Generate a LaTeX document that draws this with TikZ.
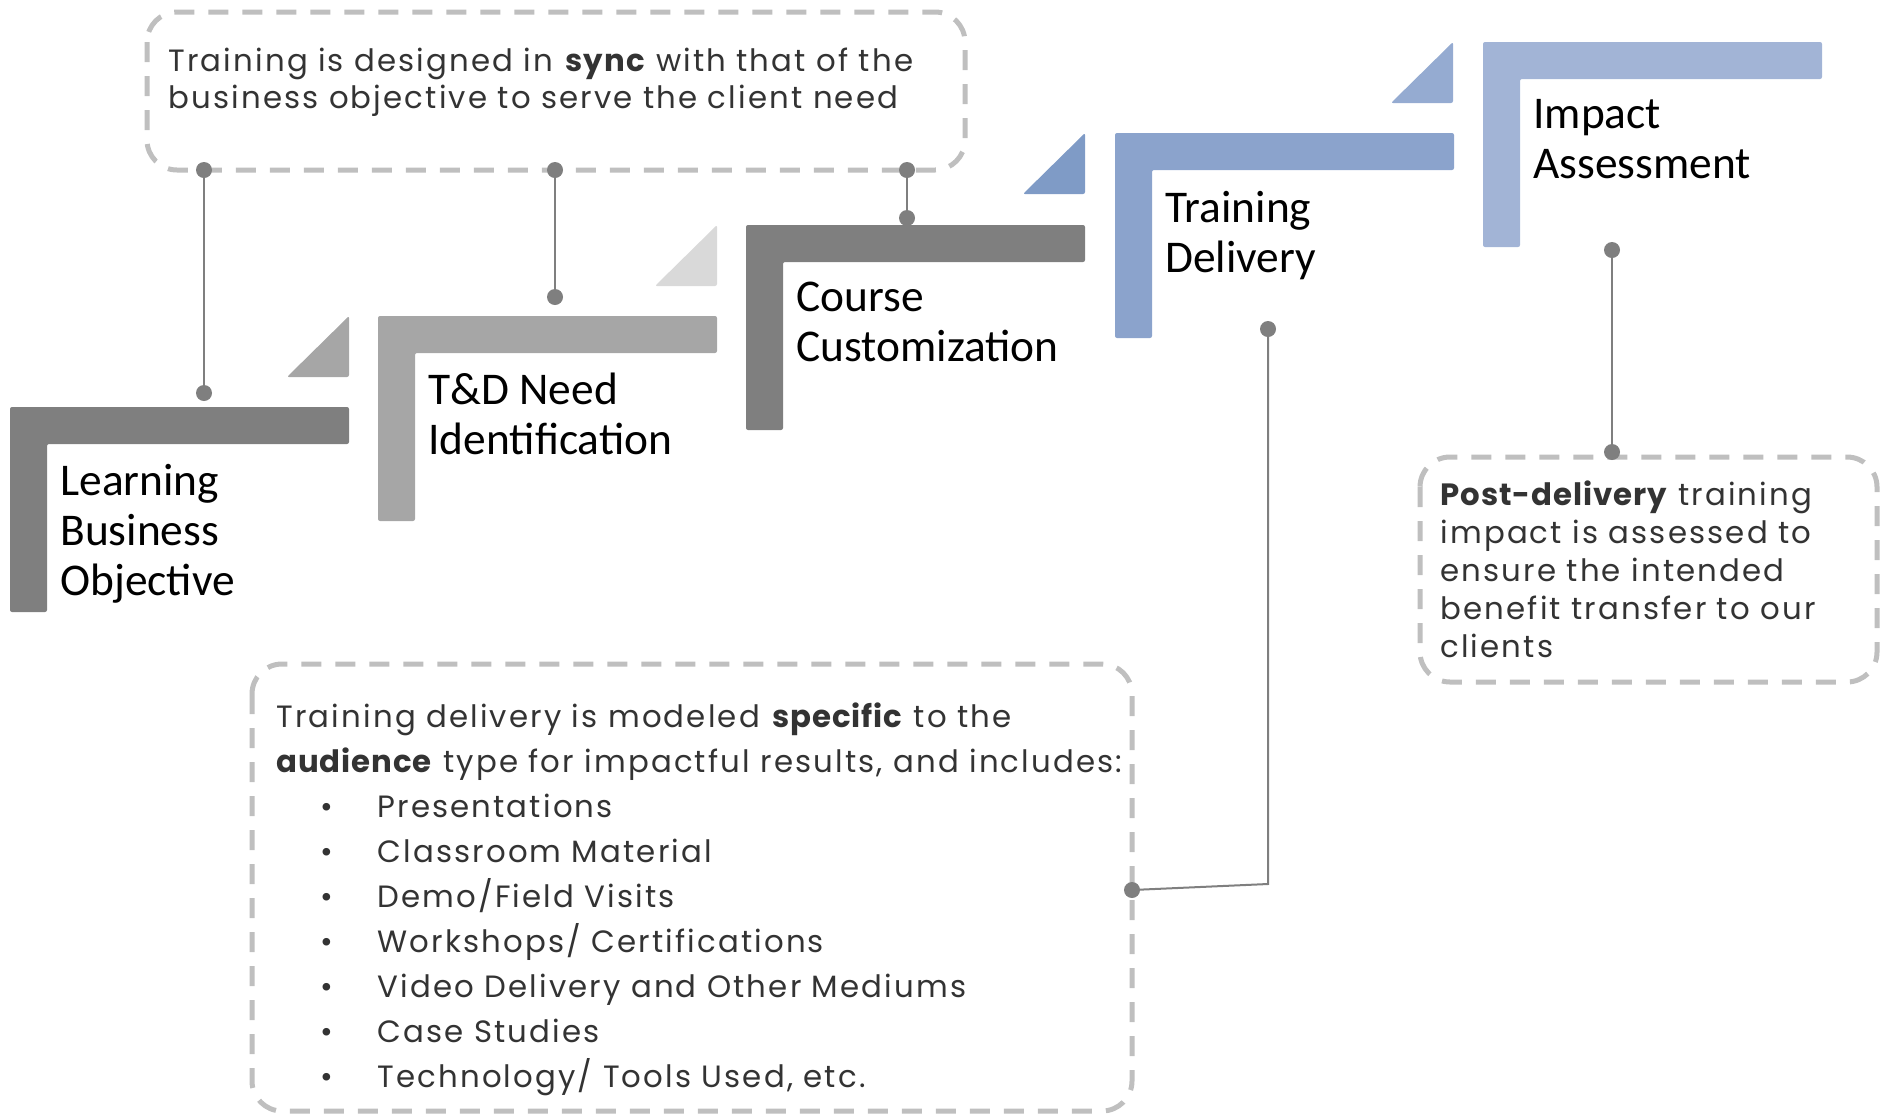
\documentclass[tikz,border=0pt]{standalone}
\usepackage{fontspec}
\setmainfont{Carlito}
\newfontfamily\monfont[LetterSpace=7.0,BoldFeatures={LetterSpace=3.0}]{Poppins}
\definecolor{gdark}{HTML}{7F7F7F}
\definecolor{gmid}{HTML}{A6A6A6}
\definecolor{glight}{HTML}{D9D9D9}
\definecolor{bltri}{HTML}{7F9BC6}
\definecolor{bdel}{HTML}{8BA3CC}
\definecolor{bltri2}{HTML}{95ABD1}
\definecolor{bimp}{HTML}{A2B4D6}
\definecolor{dashc}{HTML}{BFBFBF}
\definecolor{linec}{HTML}{7F7F7F}
\definecolor{txtc}{HTML}{333333}
\begin{document}
\begin{tikzpicture}[x=0.5pt,y=-0.5pt,
  lshape/.pic={\fill[pic actions,rounded corners=1pt] (0,0) -- (339,0) -- (339,37) -- (37,37) -- (37,205) -- (0,205) -- cycle;},
  corner/.pic={\fill[pic actions,rounded corners=1pt] (0,61) -- (62,61) -- (62,0) -- cycle;},
  steplabel/.style={anchor=north west,inner sep=0pt,align=left,font=\fontsize{22.7}{25}\selectfont,text=black},
  dbox/.style={draw=dashc,line width=2.5pt,dash pattern=on 10pt off 7pt,rounded corners=15pt},
  desc/.style={anchor=north west,inner sep=0pt,align=left,text=txtc},
  conn/.style={draw=linec,line width=1pt},
  dot/.style={fill=linec}
]
\useasboundingbox (0,0) rectangle (1884,1115);

% step shapes
\pic[fill=gdark] at (10,407) {lshape};
\pic[fill=gmid] at (287,316) {corner};
\pic[fill=gmid] at (378,316) {lshape};
\pic[fill=glight] at (655,225) {corner};
\pic[fill=gdark] at (746,225) {lshape};
\pic[fill=bltri] at (1023,133) {corner};
\pic[fill=bdel] at (1115,133) {lshape};
\pic[fill=bltri2] at (1391,42) {corner};
\pic[fill=bimp] at (1483,42) {lshape};

% step labels
\node[steplabel] (lbo) at (60,464) {Learning\\Business\\Objective};
\node[steplabel] (tdn) at (428,373) {T\&D Need\\Identification};
\node[steplabel] (cc) at (796,282) {Course\\Customization};
\node[steplabel] (td) at (1165,191) {Training\\Delivery};
\node[steplabel] (ia) at (1533,99) {Impact\\Assessment};

% dashed boxes
\draw[dbox] (147,12) rectangle (965,170);
\draw[dbox] (252,664) rectangle (1132,1111);
\draw[dbox] (1420,457) rectangle (1877,682);

% description texts
\node[desc,font=\monfont\fontsize{15.4}{18.5}\selectfont] (topt) at (168,48)
  {Training is designed in \textbf{sync} with that of the\\business objective to serve the client need};
\node[desc,font=\monfont\fontsize{15.4}{22.5}\selectfont] (bott) at (276,702)
  {Training delivery is modeled \textbf{specific} to the\\
   \textbf{audience} type for impactful results, and includes:\\
   \makebox[50.5pt][l]{\hspace*{22pt}•}Presentations\\
   \makebox[50.5pt][l]{\hspace*{22pt}•}Classroom Material\\
   \makebox[50.5pt][l]{\hspace*{22pt}•}Demo/Field Visits\\
   \makebox[50.5pt][l]{\hspace*{22pt}•}Workshops/ Certifications\\
   \makebox[50.5pt][l]{\hspace*{22pt}•}Video Delivery and Other Mediums\\
   \makebox[50.5pt][l]{\hspace*{22pt}•}Case Studies\\
   \makebox[50.5pt][l]{\hspace*{22pt}•}Technology/ Tools Used, etc.};
\node[desc,font=\monfont\fontsize{15.4}{19}\selectfont] (rgtt) at (1440,480)
  {\textbf{Post-delivery} training\\impact is assessed to\\ensure the intended\\benefit transfer to our\\clients};

% connector end points
\coordinate (a1) at (204,170); \coordinate (a2) at (204,393);
\coordinate (b1) at (555,170); \coordinate (b2) at (555,297);
\coordinate (c1) at (907,170); \coordinate (c2) at (907,218);
\coordinate (e1) at (1268,329); \coordinate (e2) at (1268,884); \coordinate (e3) at (1132,890);
\coordinate (f1) at (1612,250); \coordinate (f2) at (1612,452);

\draw[conn] (a1) -- (a2);
\draw[conn] (b1) -- (b2);
\draw[conn] (c1) -- (c2);
\draw[conn] (e1) -- (e2) -- (e3);
\draw[conn] (f1) -- (f2);
\foreach \p in {a1,a2,b1,b2,c1,c2,e1,e3,f1,f2} \fill[dot] (\p) circle[radius=4pt];
\end{tikzpicture}
\end{document}
